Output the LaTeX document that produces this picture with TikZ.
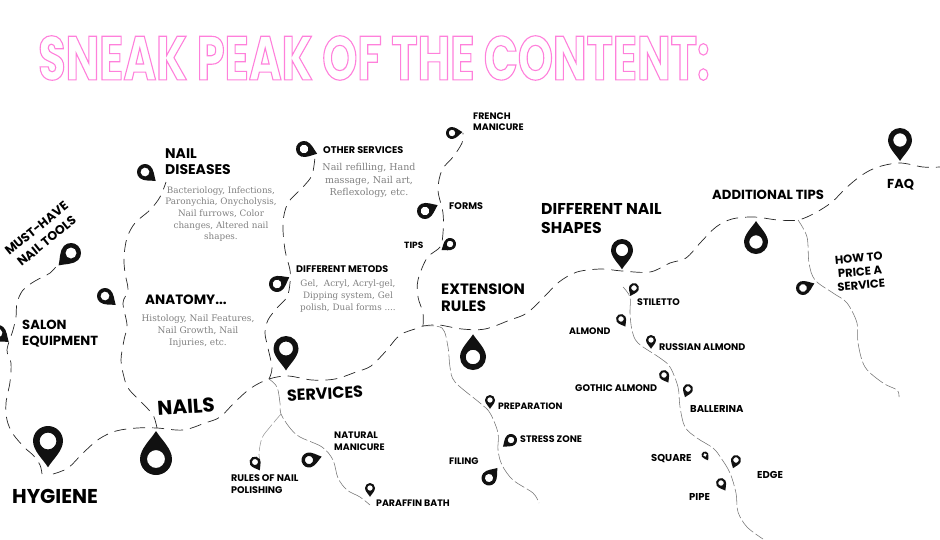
\documentclass[tikz,border=0pt]{standalone}
\usepackage{fontspec}
\setmainfont{Poppins}[BoldFont=* Bold]
\newfontfamily\slabfont{DejaVu Serif}
\newfontfamily\titlefont{Poppins}[UprightFont=* Bold,FakeStretch=0.72]
\usetikzlibrary{positioning}
\definecolor{pinblack}{HTML}{111111}
\newcommand{\sized}[1]{\fontsize{#1}{\fpeval{1.18*#1}}\selectfont}
\newcommand{\sizedloose}[1]{\fontsize{#1}{\fpeval{1.33*#1}}\selectfont}
\newcommand{\outlined}[1]{\special{pdf:code q 1 Tr 1.1 w 1 0.5 0.86 RG}#1\special{pdf:code Q}}

\begin{document}
\begin{tikzpicture}[
        x=1pt, y=-1pt,
        lab/.style={font=\bfseries\sized{#1}, text=black, inner sep=0pt, align=left, anchor=west, yshift=-0.7pt},
        desc/.style={font=\slabfont\sizedloose{#1}, text=black!50, inner sep=0pt, align=center},
        trail/.style={draw=black!85, line width=0.7pt, dash pattern=on 12pt off 7pt},
        subtrail/.style={draw=black!55, line width=0.55pt, dash pattern=on 11pt off 3pt on 16pt off 3pt},
        pin/.pic={
            \fill[pinblack, even odd rule] (0,1.75) .. controls (-0.3,1.25) and (-1,0.65) .. (-1,0)
                arc[start angle=180, end angle=360, radius=1]
                .. controls (1,0.65) and (0.3,1.25) .. (0,1.75) -- cycle
                (0,0) circle[radius=0.56];
        },
    ]
        \useasboundingbox (0,0) rectangle (940,539);
        \clip (0,0) rectangle (940,539);

        % Title
        \node[inner sep=0pt, anchor=west] (title) at (38,58)
            {\titlefont\fontsize{62}{62}\selectfont\outlined{SNEAK PEAK OF THE CONTENT:}};

        % Junctions and trail ends
        \coordinate (hygieneend) at (42,474);
        \coordinate (nailsfork) at (157,428);
        \coordinate (servicesfork) at (269,379);
        \coordinate (polishfork) at (281,414);
        \coordinate (rulesfork) at (423,326);
        \coordinate (shapesfork) at (622,271);
        \coordinate (shapesstart) at (623,287);
        \coordinate (tipsfork) at (798,220);

        % Main trail
        \draw[trail] plot[smooth, tension=0.55] coordinates {(53,474) (68,468) (83,453) (99,439) (116,431)
            (137,428) (nailsfork) (183,430) (205,423) (220,417) (235,402) (251,388) (servicesfork)
            (288,376) (312,380) (335,379) (356,372) (371,366) (386,351) (400,335) (418,328) (rulesfork)
            (439,325) (462,329) (485,329) (510,320) (527,313) (544,297) (559,282) (577,272) (601,269)
            (shapesfork) (650,272) (670,263) (686,258) (701,242) (716,227) (732,219) (754,217) (778,220)
            (tipsfork) (815,213) (832,202) (846,188) (862,175) (878,167) (900,163) (923,167) (940,167)};

        % Branches of the left side
        \draw[trail] plot[smooth, tension=0.55] coordinates {(hygieneend) (40,465) (33,455) (25,448) (13,434)
            (7,420) (6,403) (10,382) (11,363) (7,350) (13,330) (16,317) (17,303) (23,290) (35,281) (50,273) (59,263)};
        \draw[trail] plot[smooth, tension=0.55] coordinates {(nailsfork) (154,417) (148,409) (138,399) (128,388)
            (124,377) (121,360) (124,340) (127,325) (123,303) (128,290) (125,273) (124,257) (127,238)
            (135,223) (150,210) (160,197) (166,182)};
        \draw[trail] plot[smooth, tension=0.55] coordinates {(servicesfork) (272,368) (268,348) (265,333) (268,320)
            (277,308) (287,297) (290,283) (290,270) (285,250) (283,223) (288,203) (303,187) (312,175) (315,157)};
        \draw[trail] plot[smooth, tension=0.55] coordinates {(rulesfork) (423,313) (418,297) (418,280) (427,258)
            (440,247) (443,233) (443,213) (438,190) (442,170) (453,157) (462,143) (463,133)};

        % Thin branches
        \draw[subtrail] plot[smooth, tension=0.55] coordinates {(servicesfork) (277,387) (280,403) (polishfork)
            (290,428) (300,437) (322,447) (333,460) (338,478) (347,490) (360,497) (370,505)};
        \draw[subtrail, black!40] plot[smooth, tension=0.55] coordinates {(polishfork) (270,427) (262,438) (259,453) (260,460)};
        \draw[subtrail] plot[smooth, tension=0.55] coordinates {(rulesfork) (442,328) (448,347) (450,367) (455,382)
            (480,403) (490,413) (498,433) (498,450) (502,465) (513,480) (533,493) (539,503)};
        \draw[subtrail] plot[smooth, tension=0.55] coordinates {(shapesstart) (630,297) (630,313) (632,330)
            (638,343) (660,358) (670,367) (678,387) (680,407) (685,427) (697,438) (713,448) (721,458)
            (730,473) (736,493) (738,512) (747,527) (763,539)};
        \draw[subtrail] plot[smooth, tension=0.55] coordinates {(tipsfork) (807,237) (809,263) (815,280) (833,293)
            (847,303) (857,323) (858,343) (865,367) (883,383) (897,390) (899,397)};

        % Large pins
        \pic[scale=15] (hygienepin) at (48,441) {pin};
        \pic[scale=16, rotate=180] (nailspin) at (156,459) {pin};
        \pic[scale=12.5] (servicespin) at (286,348.5) {pin};
        \pic[scale=13, rotate=180] (extensionpin) at (473,357) {pin};
        \pic[scale=11] (shapespin) at (622,250) {pin};
        \pic[scale=12, rotate=180] (tipspin) at (756,242) {pin};
        \pic[scale=12] (faqpin) at (900,140) {pin};

        % Middle pins
        \pic[scale=10, rotate=-45] (toolspin) at (71,253) {pin};
        \pic[scale=8, rotate=50] (salonpin) at (-2,333) {pin};
        \pic[scale=8, rotate=50] (diseasespin) at (145,172) {pin};
        \pic[scale=8, rotate=50] (anatomypin) at (105,296) {pin};
        \pic[scale=8, rotate=70] (otherpin) at (304,149) {pin};
        \pic[scale=8, rotate=119] (metodspin) at (277,284) {pin};
        \pic[scale=6, rotate=95] (frenchpin) at (452,133) {pin};
        \pic[scale=8, rotate=115] (formspin) at (425,211) {pin};
        \pic[scale=6, rotate=-54] (tipspinsmall) at (450,244) {pin};
        \pic[scale=7.5, rotate=105] (naturalpin) at (309,460) {pin};
        \pic[scale=7.5, rotate=140] (filingpin) at (489,478) {pin};
        \pic[scale=6, rotate=-50] (stresspin) at (511,440) {pin};
        \pic[scale=7, rotate=112] (pricepin) at (803,288) {pin};

        % Small pins
        \pic[scale=5] (preparationpin) at (490,400) {pin};
        \pic[scale=5] (paraffinpin) at (370,488) {pin};
        \pic[scale=5.5, rotate=30] (rulespin) at (255,462) {pin};
        \pic[scale=5, rotate=-25] (stilettopin) at (634,288) {pin};
        \pic[scale=5, rotate=30] (almondpin) at (621,319) {pin};
        \pic[scale=5] (russianpin) at (651,340) {pin};
        \pic[scale=5, rotate=30] (gothicpin) at (664,375) {pin};
        \pic[scale=5, rotate=-20] (ballerinapin) at (688,389) {pin};
        \pic[scale=3.5, rotate=30] (squarepin) at (705,455) {pin};
        \pic[scale=5, rotate=-20] (edgepin) at (736,460) {pin};
        \pic[scale=5, rotate=30] (pipepin) at (721,483) {pin};

        % Headings
        \node[lab=20] (hygiene) at (12,496) {HYGIENE};
        \node[lab=20, anchor=center, rotate=4] (nails) at (186,406) {NAILS};
        \node[lab=16, anchor=center, rotate=3] (services) at (325,393) {SERVICES};
        \node[lab=13.2] (salon) at (22,333) {SALON\\EQUIPMENT};
        \node[lab=14] (diseases) at (165,161) {NAIL\\DISEASES};
        \node[lab=13.5] (anatomy) at (145,299) {ANATOMY...};
        \node[lab=12.5, anchor=center, align=center, rotate=39] (tools) at (41.5,234) {MUST-HAVE\\[1.5pt]NAIL TOOLS};
        \node[lab=15] (extension) at (441,297) {EXTENSION\\RULES};
        \node[lab=15.7] (shapes) at (541,218) {DIFFERENT NAIL\\SHAPES};
        \node[lab=13.2] (tips) at (712,194) {ADDITIONAL TIPS};
        \node[lab=13] (faq) at (887,184) {FAQ};
        \node[lab=11.5, anchor=center, align=center, rotate=5] (price) at (860,271) {HOW TO\\PRICE A\\SERVICE};

        % Small labels
        \node[lab=9.7] (other) at (323,149) {OTHER SERVICES};
        \node[lab=9.6] (metods) at (296,268) {DIFFERENT METODS};
        \node[lab=9.4] (french) at (473,121) {FRENCH\\MANICURE};
        \node[lab=9.6] (forms) at (449,205) {FORMS};
        \node[lab=9] (tipslabel) at (404,245) {TIPS};
        \node[lab=9.4] (natural) at (334,440.5) {NATURAL\\MANICURE};
        \node[lab=9.6] (rules) at (231,483.5) {RULES OF NAIL\\POLISHING};
        \node[lab=9.4] (paraffin) at (376,502) {PARAFFIN BATH};
        \node[lab=9.2] (preparation) at (498,406) {PREPARATION};
        \node[lab=9.5] (stress) at (520,438) {STRESS ZONE};
        \node[lab=9.4] (filing) at (449,460) {FILING};
        \node[lab=9.5] (stiletto) at (637,301) {STILETTO};
        \node[lab=9.4] (almond) at (569,330) {ALMOND};
        \node[lab=9.6] (russian) at (659,346) {RUSSIAN ALMOND};
        \node[lab=9.6] (gothic) at (575,387) {GOTHIC ALMOND};
        \node[lab=10] (ballerina) at (690,408) {BALLERINA};
        \node[lab=10] (square) at (651,458) {SQUARE};
        \node[lab=10] (edge) at (757,474) {EDGE};
        \node[lab=10] (pipe) at (689,496) {PIPE};

        % Grey notes
        \node[desc=8.8] (diseasesnote) at (221,214) {Bacteriology, Infections,\\Paronychia, Onycholysis,\\Nail furrows, Color\\changes, Altered nail\\shapes.};
        \node[desc=9] (anatomynote) at (198,331) {Histology, Nail Features,\\Nail Growth, Nail\\Injuries, etc.};
        \node[desc=9.5] (othernote) at (369,180.5) {Nail refilling, Hand\\massage, Nail art,\\Reflexology, etc.};
        \node[desc=8.8] (metodsnote) at (348,296) {Gel,\ \ Acryl, Acryl-gel,\\Dipping system, Gel\\polish, Dual forms ....};
\end{tikzpicture}
\end{document}
